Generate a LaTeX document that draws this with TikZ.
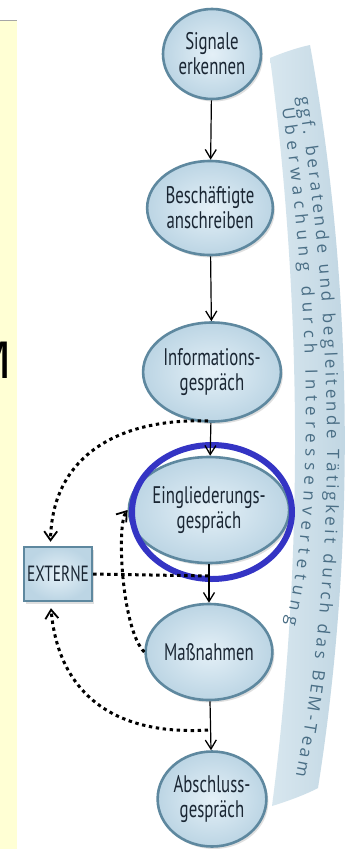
\documentclass[tikz,border=0pt]{standalone}
\usepackage{fontspec}
\setmainfont{PT Sans}
\newfontfamily\nodefont[FakeStretch=0.7]{PT Sans}
\newfontfamily\bandfont{Open Sans}
\newfontfamily\mfont{Liberation Sans}
\usetikzlibrary{shapes.geometric,arrows.meta,decorations.text,shadows}
\definecolor{yellowbg}{HTML}{FFFFD4}
\definecolor{nodein}{HTML}{E4F0F7}
\definecolor{nodeout}{HTML}{BCD5E4}
\definecolor{nodeborder}{HTML}{5E889F}
\definecolor{nodetext}{HTML}{1A2633}
\definecolor{bandleft}{HTML}{D8E7EF}
\definecolor{bandright}{HTML}{BED4E1}
\definecolor{bandtext}{HTML}{4A6E85}
\definecolor{hilite}{HTML}{3434C4}
\tikzset{
  stepnode/.style={ellipse, draw=nodeborder, line width=2.6pt, shading=radial,
    inner color=nodein, outer color=nodeout, text=nodetext, align=center,
    inner sep=0pt, font=\nodefont\fontsize{24}{25}\selectfont,
    drop shadow={shadow xshift=2pt, shadow yshift=-2.5pt, opacity=0.25}},
  extbox/.style={rectangle, draw=nodeborder, line width=2.4pt, shading=radial,
    inner color=nodein, outer color=nodeout, text=nodetext,
    minimum width=68pt, minimum height=54pt, inner sep=0pt,
    font=\nodefont\fontsize{22}{22}\selectfont,
    drop shadow={shadow xshift=2pt, shadow yshift=-2.5pt, opacity=0.25}},
  flowarrow/.style={draw=black, line width=1.2pt, -{Straight Barb[length=9pt,width=11pt,line width=1.3pt]}},
  dotarrow/.style={draw=black, line width=3pt, dash pattern=on 3.4pt off 3.6pt,
    -{Straight Barb[length=9pt,width=13pt,line width=1.8pt]}},
  dotline/.style={draw=black, line width=3pt, dash pattern=on 3.4pt off 3.6pt}
}
\begin{document}
\begin{tikzpicture}[x=1pt,y=-1pt]
\useasboundingbox (0,0) rectangle (349,849);
\fill[white] (0,0) rectangle (349,849);
% yellow side panel with clipped M
\fill[yellowbg] (0,20) rectangle (17,849);
\draw[black!35, line width=1pt] (0,20.5) -- (17,20.5);
\node[anchor=base east, inner sep=0pt, font=\mfont\fontsize{53}{53}\selectfont] (mletter) at (12,378) {M};
% band on the right
\shade[left color=bandleft, right color=bandright]
  (270,58) .. controls (302,300) and (304,560) .. (272,806)
  .. controls (285,802) and (305,795) .. (318,788)
  .. controls (354,560) and (356,300) .. (310,45)
  .. controls (296,48) and (282,53) .. cycle;
\path[decorate, decoration={text along path, text align={fit to path},
  text={|\bandfont\fontsize{17}{17}\selectfont\color{bandtext}|ggf. beratende und begleitende Tätigkeit durch das BEM-Team}}]
  (298,97) .. controls (335,330) and (339,560) .. (296,775);
\path[decorate, decoration={text along path, text align={fit to path},
  text={|\bandfont\fontsize{17}{17}\selectfont\color{bandtext}|Überwachung durch Interessenvertetung}}]
  (282,108) .. controls (310,300) and (316,500) .. (286,624);
% process nodes
\node[stepnode, minimum width=98pt, minimum height=90pt] (n1) at (212,54) {Signale\\erkennen};
\node[stepnode, minimum width=94pt, minimum height=94pt] (n2) at (210,208) {Beschäftigte\\anschreiben};
\node[stepnode, minimum width=99pt, minimum height=99pt] (n3) at (212,372) {Informations-\\gespräch};
\node[stepnode, minimum width=107pt, minimum height=106pt] (n4) at (209,510) {Eingliederungs-\\gespräch};
\node[stepnode, minimum width=105pt, minimum height=96pt] (n5) at (209,652) {Maßnahmen};
\node[stepnode, minimum width=107pt, minimum height=95pt] (n6) at (212,799) {Abschluss-\\gespräch};
\node[extbox] (ext) at (58,574) {EXTERNE};
% highlight ellipse
\node[ellipse, draw=hilite, line width=6pt, minimum width=160pt, minimum height=134pt, inner sep=0pt] (hl) at (212,512) {};
% solid flow arrows
\draw[flowarrow] (n1) -- (n2);
\draw[flowarrow] (n2) -- (n3);
\draw[flowarrow] (n3) -- (n4);
\draw[flowarrow] (n4) -- (n5);
\draw[flowarrow] (n5) -- (n6);
% junction points on the flow arrows
\coordinate (jA) at (208,421);
\coordinate (jB) at (209,576);
\coordinate (jD) at (208,730);
% dotted connectors
\draw[dotarrow, shorten >=4pt] (jA) .. controls (120,418) and (52,455) .. (ext.105);
\draw[dotline] (ext.east) -- (jB);
\draw[dotarrow] (n5.west) .. controls (122,630) and (116,525) .. (n4.west);
\draw[dotarrow, shorten >=6pt] (jD) .. controls (110,736) and (58,690) .. (ext.255);
\end{tikzpicture}
\end{document}
